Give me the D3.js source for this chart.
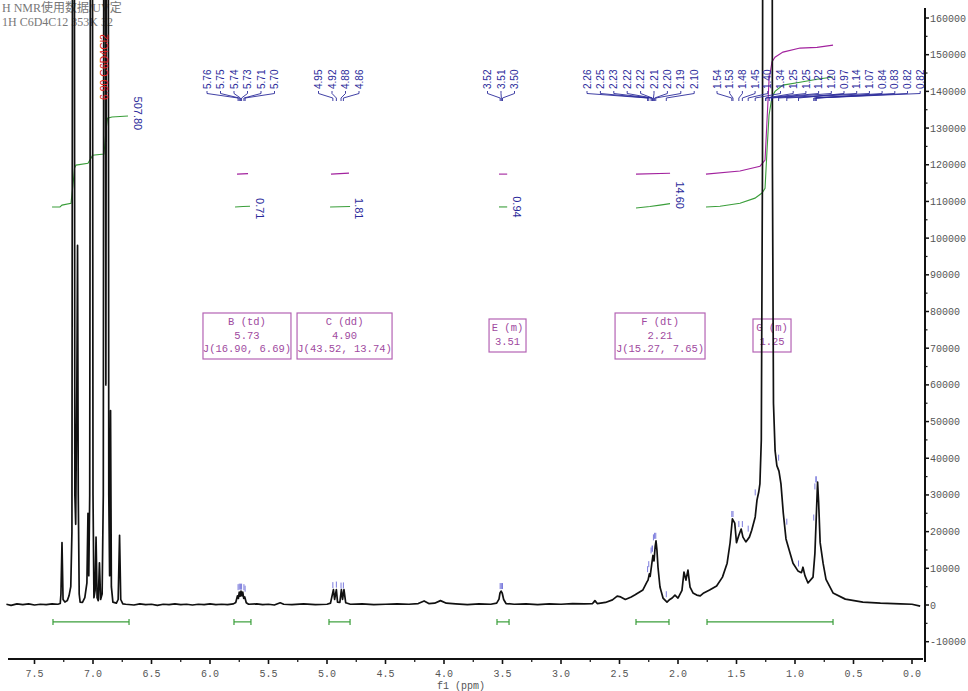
<!DOCTYPE html>
<html><head><meta charset="utf-8">
<script src="https://cdn.jsdelivr.net/npm/d3@7"></script>
<style>body{margin:0;background:#fff}svg{display:block}</style>
</head><body>
<svg id="c" width="968" height="691"></svg>
<script>
// ---------------- DATA ----------------
const titleLines = ["H NMR使用数据/UV定", "1H C6D4C12 353K 32"];
const solventLabel = "6.90 C6D4Cl2";
const xTicks = [7.5,7.0,6.5,6.0,5.5,5.0,4.5,4.0,3.5,3.0,2.5,2.0,1.5,1.0,0.5,0.0];
const yTicks = [-10000,0,10000,20000,30000,40000,50000,60000,70000,80000,90000,100000,110000,120000,130000,140000,150000,160000];
const xTitle = "f1 (ppm)";

// spectrum trace [ppm, intensity]
const spectrum = [
[7.74,200],[7.70,-100],[7.65,300],[7.60,100],[7.55,300],[7.50,0],[7.45,200],[7.40,100],[7.35,300],[7.30,200],
[7.28,400],[7.274,3000],[7.265,17000],[7.256,1500],[7.24,800],[7.22,1200],[7.205,2500],[7.19,5000],[7.18,20000],
[7.172,300000],[7.162,300000],[7.155,30000],[7.148,22000],[7.138,60000],[7.132,98000],[7.126,30000],[7.118,3000],
[7.11,800],[7.09,700],[7.07,2000],[7.052,6000],[7.043,25000],[7.036,8000],[7.028,30000],[7.018,300000],[7.008,300000],
[7.0,30000],[6.992,2000],[6.982,4000],[6.974,18500],[6.965,2000],[6.955,1200],[6.945,11500],[6.935,1500],[6.922,3000],
[6.912,30000],[6.905,300000],[6.897,300000],[6.89,60000],[6.882,300000],[6.872,300000],[6.865,30000],[6.858,8000],
[6.85,53000],[6.843,5000],[6.83,800],[6.80,500],[6.785,1500],[6.773,19000],[6.763,1500],[6.745,300],
[6.72,200],[6.65,0],[6.60,300],[6.55,100],[6.50,200],[6.45,-100],[6.40,200],[6.35,100],[6.30,300],[6.25,100],
[6.20,200],[6.15,0],[6.10,200],[6.05,100],[6.0,300],[5.95,100],[5.90,200],[5.85,100],[5.80,300],[5.78,700],
[5.765,2500],[5.757,1800],[5.75,3500],[5.742,2400],[5.735,3800],[5.727,2500],[5.72,3500],[5.712,1800],[5.703,2200],
[5.69,600],[5.67,200],[5.60,300],[5.55,100],[5.50,200],[5.45,0],[5.40,600],[5.37,200],[5.30,100],[5.20,300],
[5.10,100],[5.00,200],[4.97,500],[4.945,4200],[4.935,1500],[4.92,4200],[4.91,800],[4.89,700],[4.877,4200],
[4.867,1500],[4.855,4200],[4.84,600],[4.80,200],[4.70,300],[4.60,100],[4.50,200],[4.40,300],[4.30,200],[4.22,400],
[4.17,1100],[4.13,400],[4.08,500],[4.03,1200],[3.98,500],[3.90,300],[3.80,100],[3.70,300],[3.60,200],[3.55,500],
[3.53,1600],[3.522,3200],[3.512,3800],[3.502,3200],[3.49,1500],[3.47,400],[3.40,200],[3.30,300],[3.20,100],
[3.10,300],[3.00,200],[2.90,400],[2.80,300],[2.73,400],[2.71,1200],[2.69,400],[2.62,700],[2.56,1400],[2.52,2400],
[2.49,2200],[2.45,1500],[2.40,2200],[2.37,2700],[2.30,4100],[2.265,6300],[2.256,6800],[2.245,8500],[2.238,7800],
[2.225,11000],[2.214,13500],[2.205,12000],[2.195,16000],[2.188,17500],[2.18,15000],[2.171,10300],[2.154,4900],
[2.128,1900],[2.094,800],[2.07,1500],[2.05,1900],[2.026,2700],[2.0,1900],[1.966,4000],[1.949,9000],[1.932,6800],
[1.915,9500],[1.897,4900],[1.872,3300],[1.84,2700],[1.81,2500],[1.78,3300],[1.73,4100],[1.67,5200],[1.62,7600],
[1.58,11400],[1.555,16900],[1.535,23500],[1.515,22300],[1.50,17000],[1.48,19000],[1.46,20700],[1.445,18500],
[1.42,17200],[1.39,18500],[1.37,20400],[1.34,24000],[1.325,28600],[1.31,30800],[1.30,33000],[1.288,45000],
[1.278,120000],[1.27,400000],[1.235,900000],[1.20,400000],[1.193,120000],[1.184,55000],[1.17,42000],[1.155,38000],
[1.137,36500],[1.12,33000],[1.10,25000],[1.077,18000],[1.05,15000],[1.017,11400],[0.975,9300],[0.945,8800],
[0.932,10300],[0.915,8000],[0.889,6000],[0.846,7600],[0.83,14000],[0.807,33500],[0.798,28000],[0.785,17000],
[0.76,11400],[0.735,7000],[0.675,3300],[0.57,1600],[0.42,800],[0.27,500],[0.10,300],[0.0,200],[-0.07,-300]
];

// integral traces (green, lower)
const greenIntegrals = [
 [[7.35,108500],[7.282,108500],[7.265,109000],[7.188,109500],[7.171,114500],[7.158,119100],[7.145,119900],[7.043,120400],[7.017,121800],[7.004,122600],[6.906,122900],[6.889,129400],[6.876,132700],[6.838,133000],[6.701,133300]],
 [[5.786,108500],[5.718,108600],[5.658,108700]],
 [[4.974,108500],[4.803,108600]],
 [[3.53,108500],[3.46,108500]],
 [[2.359,108200],[2.24,108600],[2.154,109000],[2.068,109400]],
 [[1.761,108500],[1.641,108700],[1.47,109500],[1.342,110900],[1.282,112300],[1.256,113600],[1.239,124000],[1.222,133500],[1.197,138400],[1.171,140000],[1.103,141700],[0.957,142500],[0.812,143300],[0.675,143900]]
];
// integral traces (purple, upper)
const purpleIntegrals = [
 [[5.769,117450],[5.675,117590]],
 [[4.966,117450],[4.812,117720]],
 [[3.53,117450],[3.46,117450]],
 [[2.359,117450],[2.068,117700]],
 [[1.761,117450],[1.47,118300],[1.299,119600],[1.256,121300],[1.239,132200],[1.222,143100],[1.197,148000],[1.171,149300],[1.103,150700],[0.957,151800],[0.812,152000],[0.675,152600]]
];
// integration ranges [from, to] ppm and values
const integralRanges = [[7.342,6.692],[5.795,5.65],[4.983,4.803],[3.547,3.444],[2.359,2.077],[1.752,0.675]];
const integralBarLevel = -4600;
const integralValues = ["507.80","0.71","1.81","0.94","14.60"];
const integralValueAnchors = [[6.615,134000],[5.573,108000],[4.726,108000],[3.376,108500],[1.983,111700]];

// peak label groups
const peakGroups = [
 ["5.76","5.75","5.74","5.73","5.71","5.70"],
 ["4.95","4.92","4.88","4.86"],
 ["3.52","3.51","3.50"],
 ["2.26","2.25","2.23","2.22","2.22","2.21","2.20","2.19","2.10"],
 ["1.54","1.53","1.48","1.45","1.40","1.34","1.25","1.25","1.22","1.20","0.97","1.14","1.07","0.84","0.83","0.82","0.82"]
];

// multiplet boxes
const multiplets = [
 {lines:["B (td)","5.73","J(16.90, 6.69)"], from:6.06, to:5.308},
 {lines:["C (dd)","4.90","J(43.52, 13.74)"], from:5.256, to:4.444},
 {lines:["E (m)","3.51"], from:3.615, to:3.299},
 {lines:["F (dt)","2.21","J(15.27, 7.65)"], from:2.538, to:1.769},
 {lines:["G (m)","1.25"], from:1.359, to:1.034}
];

// ---------------- LAYOUT ----------------
const x = d3.scaleLinear().domain([7.5, 0]).range([34.5, 912]);
const y = d3.scaleLinear().domain([0, 160000]).range([605, 18]);
const axisY = 659, axisX = 925;
const groupStart = [207, 318.5, 487.5, 587, 717];
const groupStep = [13.5, 13.5, 13.5, 13.4, 12.7];

const svg = d3.select("#c");
const BLUE = "#2b2b9b", GREEN = "#3a9e3a", PURPLE = "#a2229e", BOX = "#b463b4";
const monoFont = "'Liberation Mono', 'DejaVu Sans Mono', monospace";

svg.append("defs").append("clipPath").attr("id","clip")
  .append("rect").attr("x",0).attr("y",0).attr("width",axisX-1).attr("height",axisY-1);

// title
svg.selectAll("text.title").data(titleLines).join("text")
  .attr("x",2).attr("y",(d,i)=>12+i*14)
  .attr("font-family","'Liberation Serif','Noto Sans CJK SC',serif").attr("font-size",12)
  .attr("fill","#777").text(d=>d);

// multiplet boxes
const boxG = svg.append("g");
const boxTop = 313;
multiplets.forEach(m=>{
  const x0 = x(m.from), x1 = x(m.to);
  const n = m.lines.length;
  const top = n===3 ? boxTop : boxTop+6;
  const h = n===3 ? 46 : 33;
  boxG.append("rect").attr("x",x0).attr("y",top).attr("width",x1-x0).attr("height",h)
    .attr("fill","none").attr("stroke",BOX).attr("stroke-width",1.2);
  m.lines.forEach((t,i)=>{
    boxG.append("text").attr("x",(x0+x1)/2).attr("y",top+12+i*13.5)
      .attr("text-anchor","middle").attr("font-family",monoFont).attr("font-size",10.5)
      .attr("fill","#a04aa0").text(t);
  });
});

// integral curves
const line = d3.line().x(d=>x(d[0])).y(d=>y(d[1]));
svg.append("g").selectAll("path").data(greenIntegrals).join("path")
  .attr("d",line).attr("fill","none").attr("stroke",GREEN).attr("stroke-width",1.1);
svg.append("g").selectAll("path").data(purpleIntegrals).join("path")
  .attr("d",line).attr("fill","none").attr("stroke",PURPLE).attr("stroke-width",1.1);

// integral values
integralValues.forEach((v,i)=>{
  const a = integralValueAnchors[i];
  svg.append("text").attr("transform",`translate(${x(a[0])},${y(a[1])}) rotate(90)`)
    .attr("text-anchor","middle").attr("dy","0.35em")
    .attr("font-family","'Liberation Sans',Arial,sans-serif").attr("font-size",11)
    .attr("fill",BLUE).text(v);
});

// integration bars
const barG = svg.append("g").attr("stroke",GREEN).attr("stroke-width",1.2);
integralRanges.forEach(r=>{
  const yy = y(integralBarLevel);
  barG.append("line").attr("x1",x(r[0])).attr("x2",x(r[1])).attr("y1",yy).attr("y2",yy);
  barG.append("line").attr("x1",x(r[0])).attr("x2",x(r[0])).attr("y1",yy-3).attr("y2",yy+3);
  barG.append("line").attr("x1",x(r[1])).attr("x2",x(r[1])).attr("y1",yy-3).attr("y2",yy+3);
});

// spectrum
svg.append("path").datum(spectrum).attr("clip-path","url(#clip)")
  .attr("d",line).attr("fill","none").attr("stroke","#111").attr("stroke-width",1.7)
  .attr("stroke-linejoin","round");

// peak markers on the trace (blue)
const asc = spectrum.slice().reverse();
const bis = d3.bisector(d=>d[0]).left;
function valAt(p){
  const i = Math.max(1, Math.min(asc.length-1, bis(asc, p)));
  const a = asc[i-1], b = asc[i];
  const t = (p-a[0])/(b[0]-a[0]);
  return a[1] + t*(b[1]-a[1]);
}
const mk = svg.append("g").attr("stroke","#4a4ad0").attr("stroke-width",0.9).attr("opacity",0.8);
peakGroups.flat().forEach(t=>{
  const p = +t;
  let v = -Infinity;
  for (let d=-0.02; d<=0.02; d+=0.002) v = Math.max(v, valAt(p+d));
  if (v > 150000) return;
  const yy = y(v);
  mk.append("line").attr("x1",x(p)).attr("x2",x(p)).attr("y1",yy-8).attr("y2",yy-2);
});

// solvent label (red)
svg.append("text").attr("transform",`translate(${x(6.875)},100) rotate(-90)`)
  .attr("font-family","'Liberation Sans',Arial,sans-serif").attr("font-size",10.5)
  .attr("fill","#e02020").text(solventLabel);

// peak labels with leaders
const labG = svg.append("g");
peakGroups.forEach((grp,gi)=>{
  grp.forEach((t,i)=>{
    const lx = groupStart[gi] + i*groupStep[gi];
    const px = x(+t);
    labG.append("text").attr("transform",`translate(${lx+3.6},89) rotate(-90)`)
      .attr("font-family","'Liberation Sans',Arial,sans-serif").attr("font-size",10)
      .attr("fill",BLUE).text(t);
    labG.append("path")
      .attr("d",`M${lx},91 L${lx},93.5 L${px},98 L${px},101`)
      .attr("fill","none").attr("stroke",BLUE).attr("stroke-width",0.9);
  });
});

// axes
const ax = svg.append("g");
ax.append("line").attr("x1",8).attr("x2",axisX-2).attr("y1",axisY).attr("y2",axisY)
  .attr("stroke","#111").attr("stroke-width",2);
const xMinor = d3.range(0.25, 7.75, 0.5);
ax.selectAll("line.xt").data(xTicks).join("line")
  .attr("x1",d=>x(d)).attr("x2",d=>x(d)).attr("y1",axisY).attr("y2",axisY+5)
  .attr("stroke","#111").attr("stroke-width",1.6);
ax.selectAll("line.xm").data(xMinor).join("line")
  .attr("x1",d=>x(d)).attr("x2",d=>x(d)).attr("y1",axisY).attr("y2",axisY+3)
  .attr("stroke","#111").attr("stroke-width",1.2);
ax.selectAll("text.xl").data(xTicks).join("text")
  .attr("x",d=>x(d)).attr("y",axisY+18).attr("text-anchor","middle")
  .attr("font-family",monoFont).attr("font-size",10).attr("fill","#555")
  .text(d=>d.toFixed(1));
ax.append("text").attr("x",461).attr("y",689).attr("text-anchor","middle")
  .attr("font-family",monoFont).attr("font-size",10).attr("fill","#555").text(xTitle);

ax.append("line").attr("x1",axisX).attr("x2",axisX).attr("y1",8).attr("y2",axisY+3)
  .attr("stroke","#111").attr("stroke-width",2);
const yMinor = d3.range(-5000, 165000, 10000);
ax.selectAll("line.yt").data(yTicks).join("line")
  .attr("x1",axisX).attr("x2",axisX+4).attr("y1",d=>y(d)).attr("y2",d=>y(d))
  .attr("stroke","#111").attr("stroke-width",1.5);
ax.selectAll("line.ym").data(yMinor).join("line")
  .attr("x1",axisX).attr("x2",axisX+2.5).attr("y1",d=>y(d)).attr("y2",d=>y(d))
  .attr("stroke","#111").attr("stroke-width",1.2);
ax.selectAll("text.yl").data(yTicks).join("text")
  .attr("x",axisX+5).attr("y",d=>y(d)).attr("dy","0.35em")
  .attr("font-family",monoFont).attr("font-size",10).attr("fill","#555")
  .text(d=>String(d));
</script>
</body></html>
